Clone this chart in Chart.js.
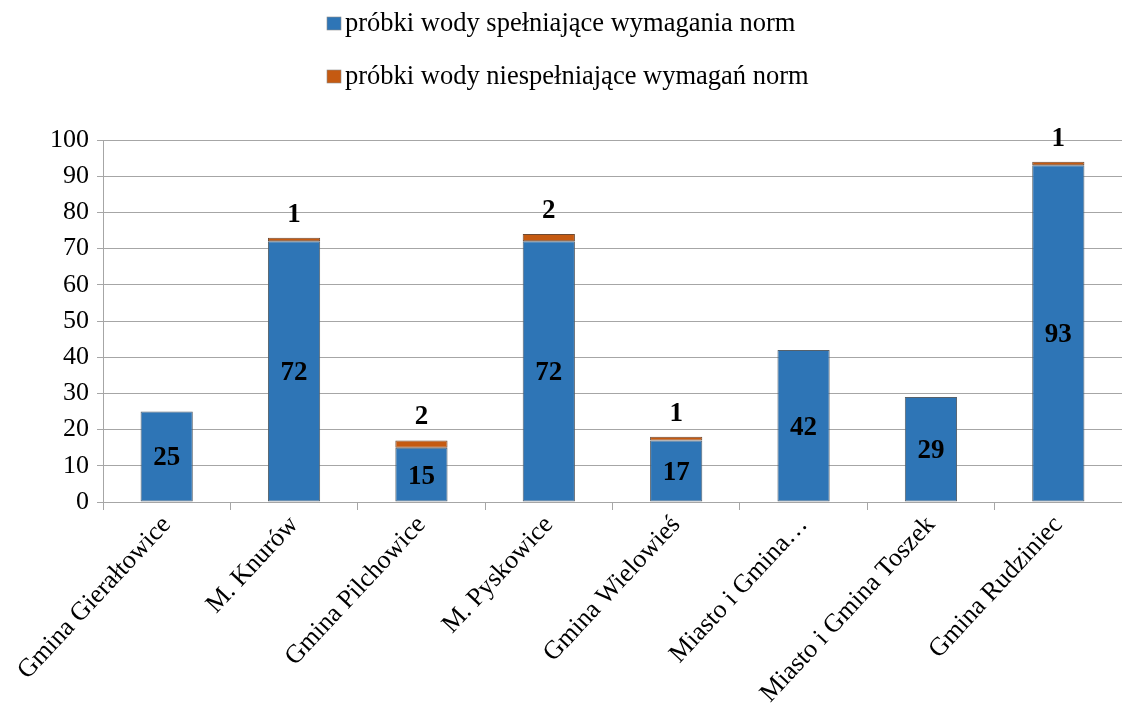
<!DOCTYPE html>
<html>
<head>
<meta charset="utf-8">
<script src="https://cdn.jsdelivr.net/npm/chart.js@4"></script>
<style>
  html, body { margin: 0; padding: 0; background: #fff; }
  #wrap { width: 1122px; height: 711px; }
</style>
</head>
<body>
<div id="wrap"><canvas id="chart" width="1122" height="711"></canvas></div>
<script>
// data
const gminy = ["Gmina Gierałtowice", "M. Knurów", "Gmina Pilchowice", "M. Pyskowice",
               "Gmina Wielowieś", "Miasto i Gmina…", "Miasto i Gmina Toszek", "Gmina Rudziniec"];
const spelniajace = [25, 72, 15, 72, 17, 42, 29, 93];
const niespelniajace = [0, 1, 2, 2, 1, 0, 0, 1];
const yTicks = [0, 10, 20, 30, 40, 50, 60, 70, 80, 90, 100];

const serif = "'Liberation Serif', 'Times New Roman', serif";
const gridGray = "#a6a6a6";

// legend stacked in two rows above the plot
const legendRows = {
    id: "legendRows",
    afterDraw(chart) {
        const ctx = chart.ctx;
        ctx.save();
        ctx.font = "26.5px " + serif;
        ctx.textBaseline = "middle";
        ctx.textAlign = "left";
        chart.data.datasets.forEach((ds, i) => {
            const y = 24 + i * 53;
            ctx.fillStyle = ds.backgroundColor;
            ctx.fillRect(327, y - 7, 14, 13);
            ctx.strokeStyle = "#8c8c8c";
            ctx.lineWidth = 0.6;
            ctx.strokeRect(327, y - 7, 14, 13);
            ctx.fillStyle = "#000";
            ctx.fillText(ds.label, 345, y);
        });
        ctx.restore();
    }
};

// value labels: blue in the middle of the bar, orange above the stack
const valueLabels = {
    id: "valueLabels",
    afterDatasetsDraw(chart) {
        const ctx = chart.ctx;
        ctx.save();
        ctx.font = "bold 27px " + serif;
        ctx.fillStyle = "#000";
        ctx.textAlign = "center";
        ctx.textBaseline = "middle";
        chart.getDatasetMeta(0).data.forEach((bar, i) => {
            const v = spelniajace[i];
            ctx.fillText(String(v), bar.x, (bar.y + bar.base) / 2 + 2);
        });
        chart.getDatasetMeta(1).data.forEach((bar, i) => {
            const v = niespelniajace[i];
            if (v > 0) ctx.fillText(String(v), bar.x, bar.y - 23);
        });
        ctx.restore();
    }
};

new Chart(document.getElementById("chart").getContext("2d"), {
    type: "bar",
    data: {
        labels: gminy,
        datasets: [
            {
                label: "próbki wody spełniające wymagania norm",
                data: spelniajace,
                backgroundColor: "#2e75b6",
                borderColor: "#56616b",
                borderWidth: 1,
                borderSkipped: false,
                barPercentage: 0.41,
                categoryPercentage: 1.0,
            },
            {
                label: "próbki wody niespełniające wymagań norm",
                data: niespelniajace,
                backgroundColor: "#c55a11",
                borderColor: "#6e4a32",
                borderWidth: 1,
                borderSkipped: false,
                barPercentage: 0.41,
                categoryPercentage: 1.0,
            },
        ],
    },
    options: {
        responsive: false,
        animation: false,
        layout: { padding: { top: 140, right: 0, left: 0, bottom: 0 } },
        plugins: {
            legend: { display: false },
            tooltip: { enabled: false },
        },
        scales: {
            x: {
                stacked: true,
                grid: {
                    offset: true,
                    drawOnChartArea: false,
                    drawTicks: true,
                    tickLength: 8,
                    color: gridGray,
                },
                border: { color: gridGray },
                ticks: {
                    color: "#000",
                    font: { family: serif, size: 26 },
                    minRotation: 47,
                    maxRotation: 47,
                    autoSkip: false,
                    padding: 0,
                },
                afterFit(scale) { scale.height = 209; },
            },
            y: {
                stacked: true,
                min: 0,
                max: 100,
                afterBuildTicks(scale) {
                    scale.ticks = yTicks.map(v => ({ value: v }));
                },
                grid: {
                    color: gridGray,
                    drawTicks: true,
                    tickLength: 6,
                },
                border: { color: gridGray },
                ticks: {
                    color: "#000",
                    font: { family: serif, size: 26 },
                    padding: 8,
                },
                afterFit(scale) { scale.width = 103; },
            },
        },
    },
    plugins: [legendRows, valueLabels],
});
</script>
</body>
</html>
